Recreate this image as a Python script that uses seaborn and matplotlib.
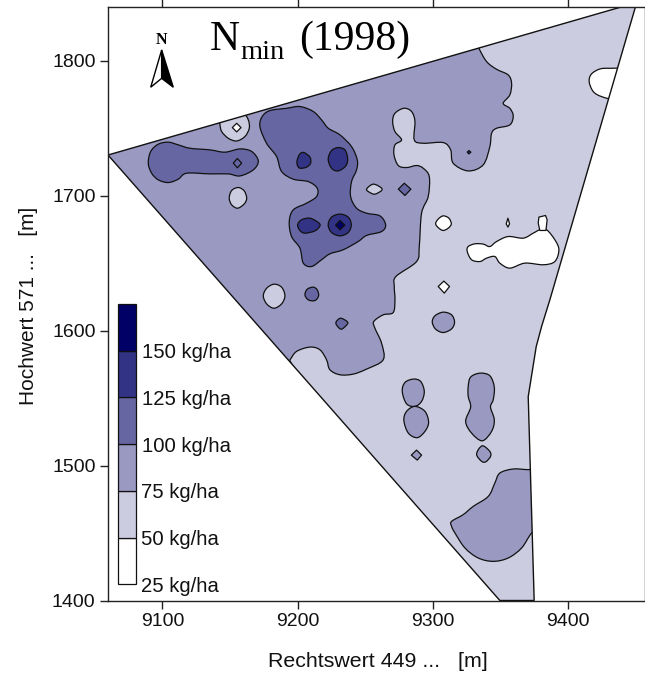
import numpy as np
import matplotlib
matplotlib.use('Agg')
import matplotlib.pyplot as plt
from matplotlib.patches import PathPatch, Polygon, Rectangle
from matplotlib.path import Path
import seaborn as sns

# contour levels of the legend, kg/ha
levels = [25, 50, 75, 100, 125, 150]
level_labels = ['25 kg/ha', '50 kg/ha', '75 kg/ha', '100 kg/ha', '125 kg/ha', '150 kg/ha']
x_ticks = [9100, 9200, 9300, 9400]
y_ticks = [1400, 1500, 1600, 1700, 1800]

# field outline
field = [(9059.7, 1730.0), (9440.6, 1840.0), (9450.0, 1840.0), (9386.6, 1622.7), (9380.5, 1603.0),
         (9376.5, 1588.0), (9370.6, 1551.0), (9375.0, 1400.0), (9349.6, 1400.0)]

# 75 kg/ha, runs past the field edge and gets clipped
main_75 = [(9190.6, 1574.6), (9194.3, 1578.3), (9199.2, 1584.5), (9209.1, 1587.7), (9216.5, 1585.7),
           (9221.4, 1578.3), (9223.9, 1570.9), (9231.3, 1567.2), (9241.1, 1567.7), (9251.0, 1571.4),
           (9263.3, 1578.3), (9262.1, 1590.6), (9257.2, 1601.7), (9256.4, 1606.7), (9263.3, 1611.6),
           (9270.7, 1613.3), (9272.0, 1622.7), (9271.5, 1632.6), (9272.7, 1640.0), (9288.0, 1651.1),
           (9290.0, 1662.2), (9291.7, 1686.9), (9296.6, 1699.2), (9297.4, 1714.0), (9292.9, 1720.2),
           (9288.0, 1722.2), (9280.6, 1720.7), (9274.5, 1722.2), (9271.3, 1730.1), (9272.0, 1737.5),
           (9276.9, 1741.2), (9272.0, 1747.4), (9270.3, 1754.8), (9272.0, 1760.9), (9278.6, 1764.6),
           (9284.3, 1762.2), (9286.8, 1754.8), (9286.3, 1741.2), (9292.9, 1738.7), (9307.7, 1739.2),
           (9313.2, 1733.8), (9315.1, 1723.9), (9326.2, 1718.2), (9337.3, 1722.7), (9342.2, 1736.2),
           (9343.5, 1746.1), (9347.2, 1749.8), (9357.0, 1752.3), (9359.5, 1759.0), (9357.0, 1764.6),
           (9352.1, 1768.3), (9357.0, 1774.5), (9358.3, 1783.1), (9355.8, 1789.3), (9347.2, 1793.5),
           (9339.8, 1799.2), (9334.1, 1809.0), (9331.2, 1815.2), (9050.0, 1745.0), (9040.0, 1725.0)]
south_75 = [(9313.9, 1458.6), (9322.5, 1463.6), (9329.9, 1469.7), (9341.0, 1477.1), (9345.9, 1487.0),
            (9349.6, 1494.4), (9359.5, 1497.4), (9370.6, 1496.9), (9381.7, 1496.9), (9381.7, 1457.4),
            (9373.1, 1450.0), (9365.7, 1438.9), (9355.8, 1431.5), (9344.7, 1429.0), (9333.6, 1431.5),
            (9323.8, 1438.9), (9316.4, 1450.0), (9313.9, 1454.9)]
spot_75_a = [(9299.6, 1606.2), (9301.6, 1610.9), (9307.7, 1613.6), (9313.9, 1611.6), (9316.1, 1606.2),
             (9313.9, 1601.2), (9307.7, 1598.5), (9302.1, 1601.0)]
spot_75_b = [(9277.4, 1554.9), (9279.4, 1561.5), (9285.6, 1564.0), (9291.0, 1562.3), (9293.7, 1554.9),
             (9291.7, 1547.5), (9286.8, 1543.8), (9280.6, 1545.7)]
spot_75_c = [(9278.6, 1533.4), (9280.6, 1540.1), (9286.8, 1543.8), (9294.2, 1540.1), (9296.9, 1531.9),
             (9294.2, 1525.3), (9288.5, 1520.6), (9281.9, 1524.0)]
spot_75_d = [(9326.2, 1558.6), (9328.0, 1565.5), (9334.9, 1568.4), (9342.2, 1566.5), (9345.5, 1558.1),
             (9344.7, 1548.7), (9342.7, 1543.3), (9345.5, 1533.9), (9343.5, 1525.3), (9336.6, 1518.3),
             (9328.7, 1524.0), (9324.3, 1532.7), (9328.0, 1543.3), (9326.2, 1551.2)]
spot_75_e = [(9332.4, 1508.5), (9336.6, 1514.6), (9342.2, 1510.4), (9342.7, 1506.7), (9339.3, 1502.8),
             (9336.1, 1503.1)]
diamond_75 = [(9284.1, 1507.7), (9288.0, 1511.4), (9291.7, 1507.7), (9288.5, 1504.0)]

# 50 kg/ha islands inside the 75 area
north_50 = [(9142.5, 1753.0), (9143.8, 1747.4), (9148.7, 1742.4), (9154.9, 1740.4), (9161.0, 1743.7),
            (9164.2, 1749.8), (9163.5, 1756.0), (9159.8, 1760.9), (9151.2, 1762.2), (9142.5, 1759.7)]
spot_50_a = [(9149.4, 1698.0), (9151.2, 1703.7), (9156.1, 1705.9), (9160.5, 1703.4), (9162.3, 1698.0),
             (9160.5, 1693.8), (9155.6, 1690.6), (9151.2, 1693.1)]
spot_50_b = [(9174.6, 1625.7), (9177.1, 1631.3), (9182.5, 1634.3), (9188.1, 1632.1), (9190.6, 1625.7),
             (9188.1, 1619.7), (9182.5, 1616.5), (9177.1, 1619.7)]
lens_50 = [(9251.0, 1704.7), (9255.9, 1708.4), (9261.6, 1705.9), (9262.1, 1703.7), (9257.2, 1701.0),
           (9253.5, 1702.2)]

# 25 kg/ha, white
ne_25 = [(9415.7, 1784.4), (9417.4, 1790.0), (9423.6, 1793.7), (9431.0, 1794.2), (9439.6, 1793.0),
         (9440.8, 1780.7), (9433.5, 1772.0), (9424.8, 1773.3), (9418.7, 1777.0)]
blob_25 = [(9325.5, 1658.5), (9326.2, 1662.2), (9331.2, 1664.2), (9337.3, 1664.0), (9342.2, 1662.2),
           (9347.2, 1665.9), (9355.8, 1669.6), (9366.9, 1668.4), (9374.3, 1672.1), (9379.2, 1674.6),
           (9384.2, 1674.6), (9390.3, 1667.2), (9393.3, 1659.8), (9390.3, 1651.1), (9381.7, 1648.7),
           (9368.1, 1649.9), (9357.0, 1646.2), (9349.6, 1649.9), (9345.9, 1654.8), (9339.8, 1653.6),
           (9334.9, 1651.1), (9328.7, 1652.4)]
spot_25 = [(9302.1, 1679.0), (9304.0, 1682.5), (9307.7, 1684.9), (9311.9, 1683.2), (9313.7, 1679.0),
           (9311.4, 1675.8), (9307.7, 1674.1), (9304.5, 1675.8)]
sliver_25 = [(9378.5, 1684.0), (9383.4, 1685.2), (9384.6, 1682.0), (9383.7, 1674.1), (9379.2, 1674.1),
             (9378.0, 1679.5)]
tiny_25 = [(9354.3, 1679.0), (9355.6, 1683.2), (9356.8, 1679.0), (9355.6, 1676.6)]
diamond_25_a = [(9151.7, 1750.3), (9154.9, 1753.5), (9158.1, 1750.3), (9154.9, 1747.1)]
diamond_25_b = [(9304.0, 1632.6), (9308.2, 1636.6), (9312.4, 1632.6), (9308.5, 1627.7)]

# 100 kg/ha
west_100 = [(9089.5, 1723.9), (9091.3, 1732.6), (9096.9, 1738.0), (9104.3, 1739.5), (9111.7, 1737.5),
            (9120.4, 1735.0), (9135.1, 1733.8), (9146.2, 1732.1), (9157.3, 1734.5), (9166.0, 1732.6),
            (9170.9, 1725.6), (9167.2, 1719.0), (9157.3, 1714.5), (9148.7, 1716.0), (9135.1, 1716.0),
            (9117.9, 1716.5), (9111.7, 1712.1), (9104.3, 1709.6), (9096.9, 1711.6), (9092.0, 1716.5)]
centre_100 = [(9172.1, 1751.0), (9173.8, 1758.5), (9179.5, 1762.9), (9191.8, 1764.6), (9201.7, 1765.9),
              (9211.6, 1762.2), (9217.7, 1756.0), (9222.7, 1749.8), (9231.3, 1744.9), (9239.9, 1736.2),
              (9244.1, 1726.4), (9243.6, 1719.0), (9239.9, 1710.3), (9239.2, 1699.2), (9243.6, 1690.6),
              (9251.0, 1686.9), (9260.9, 1684.9), (9265.1, 1678.3), (9262.1, 1673.3), (9251.0, 1670.4),
              (9244.8, 1665.9), (9233.7, 1659.8), (9223.9, 1656.8), (9217.7, 1652.4), (9210.3, 1647.4),
              (9204.2, 1649.9), (9201.7, 1661.0), (9195.5, 1669.6), (9193.8, 1680.7), (9196.8, 1689.4),
              (9206.6, 1694.3), (9214.0, 1699.2), (9214.5, 1705.4), (9207.9, 1710.3), (9196.8, 1712.1),
              (9188.1, 1717.8), (9184.4, 1728.9), (9177.0, 1738.7)]
spot_100 = [(9205.4, 1626.4), (9207.1, 1630.6), (9211.6, 1632.1), (9214.5, 1630.1), (9215.5, 1625.7),
            (9212.8, 1622.2), (9207.9, 1622.7)]
patch_100 = [(9228.3, 1605.9), (9231.8, 1609.1), (9237.0, 1606.2), (9235.7, 1603.5), (9232.5, 1601.0),
             (9230.0, 1602.5)]
diamond_100_a = [(9274.5, 1704.7), (9278.9, 1709.1), (9283.8, 1704.7), (9279.4, 1700.0)]
diamond_100_b = [(9152.4, 1724.0), (9155.4, 1727.4), (9158.6, 1724.0), (9155.4, 1720.5)]

# 125 kg/ha
core_125_a = [(9199.7, 1726.4), (9201.7, 1730.8), (9204.7, 1731.8), (9209.1, 1728.4), (9209.6, 1723.9),
              (9206.6, 1721.0), (9201.7, 1720.2), (9199.7, 1722.7)]
core_125_b = [(9222.6, 1726.9), (9225.1, 1733.3), (9230.0, 1735.5), (9235.0, 1733.8), (9237.0, 1727.6),
              (9235.7, 1722.0), (9230.0, 1718.2), (9225.1, 1720.2)]
core_125_c = [(9200.0, 1678.3), (9202.9, 1682.0), (9209.1, 1683.2), (9215.3, 1680.0), (9216.5, 1677.5),
              (9212.8, 1673.8), (9205.4, 1672.1), (9201.7, 1674.1)]
core_125_d = [(9222.6, 1678.3), (9225.1, 1684.0), (9231.3, 1686.2), (9237.4, 1684.0), (9239.7, 1678.3),
              (9237.4, 1672.6), (9231.3, 1670.1), (9225.1, 1672.6)]
dot_125 = [(9325.5, 1732.1), (9326.7, 1733.3), (9328.2, 1732.1), (9326.7, 1730.8)]

# 150 kg/ha
peak_150 = [(9228.1, 1678.0), (9231.3, 1681.5), (9235.0, 1678.0), (9231.3, 1674.6)]

sns.set_style('ticks')
plt.rcParams['font.family'] = ['Liberation Sans', 'DejaVu Sans']

colors = sns.blend_palette(['#ffffff', '#000066'], 6)
LW = 0.9
EDGE = '#111111'


def smooth_path(pts):
    # closed bezier through the contour points
    pts = np.array(pts)
    prev_p = np.roll(pts, 1, axis=0)
    next_p = np.roll(pts, -1, axis=0)
    next2_p = np.roll(pts, -2, axis=0)
    verts = [pts[0]]
    codes = [Path.MOVETO]
    for p0, p1, p2, p3 in zip(prev_p, pts, next_p, next2_p):
        verts += [p1 + (p2 - p0) / 6, p2 - (p3 - p1) / 6, p2]
        codes += [Path.CURVE4, Path.CURVE4, Path.CURVE4]
    return Path(verts, codes)


def draw(ax, clip, pts, band, smooth=True):
    path = smooth_path(pts) if smooth else Path(list(pts) + [pts[0]], closed=True)
    patch = PathPatch(path, facecolor=colors[band], edgecolor=EDGE, lw=LW, joinstyle='round')
    ax.add_patch(patch)
    patch.set_clip_path(clip)


fig = plt.figure(figsize=(6.45, 6.78), dpi=100)
ax = fig.add_axes([108 / 645, (678 - 600.5) / 678, 537 / 645, 594 / 678])
ax.set_xlim(9059.7, 9457.0)
ax.set_ylim(1400, 1840)

field_patch = Polygon(field, closed=True, facecolor=colors[1], edgecolor='none')
ax.add_patch(field_patch)

for pts in [main_75, south_75, spot_75_a, spot_75_b, spot_75_c, spot_75_d, spot_75_e]:
    draw(ax, field_patch, pts, 2)
draw(ax, field_patch, diamond_75, 2, smooth=False)
for pts in [north_50, spot_50_a, spot_50_b, lens_50]:
    draw(ax, field_patch, pts, 1)
for pts in [ne_25, blob_25, spot_25]:
    draw(ax, field_patch, pts, 0)
for pts in [sliver_25, tiny_25, diamond_25_a, diamond_25_b]:
    draw(ax, field_patch, pts, 0, smooth=False)
for pts in [west_100, centre_100, spot_100, patch_100]:
    draw(ax, field_patch, pts, 3)
for pts in [diamond_100_a, diamond_100_b]:
    draw(ax, field_patch, pts, 3, smooth=False)
for pts in [core_125_a, core_125_b, core_125_c, core_125_d]:
    draw(ax, field_patch, pts, 4)
draw(ax, field_patch, dot_125, 4, smooth=False)
draw(ax, field_patch, peak_150, 5, smooth=False)
ax.add_patch(Polygon(field, closed=True, fill=False, edgecolor=EDGE, lw=1.0))

# legend column, colour boxes with a label at each lower edge
box_left = (117.7 - 108) / 537
box_w = 18 / 537
box_h = 46.7 / 594
box_bottom = (600.5 - 584.3) / 594
for i, label in enumerate(level_labels):
    y0 = box_bottom + i * box_h
    ax.add_patch(Rectangle((box_left, y0), box_w, box_h, transform=ax.transAxes, facecolor=colors[i],
                           edgecolor=EDGE, lw=0.9, zorder=5))
    ax.text(box_left + box_w + (0.012 if i > 2 else 0.010), y0 - 0.0034, label, transform=ax.transAxes,
            fontsize=14.6, va='center', ha='left', color='#111111', zorder=5)

# title and north arrow
ax.text(9135, 1807.8, 'N', family='Liberation Serif', fontsize=30, va='baseline', ha='left', color='black')
ax.text(9158, 1801, 'min', family='Liberation Serif', fontsize=20.5, va='baseline', ha='left', color='black')
ax.text(9201, 1807.8, '(1998)', family='Liberation Serif', fontsize=30, va='baseline', ha='left',
        color='black')
ax.text(9099.4, 1809.5, 'N', family='Liberation Serif', weight='bold', fontsize=11.5, ha='center',
        va='bottom', color='black')
ax.add_patch(Polygon([(9099.4, 1807.8), (9091.3, 1780.2), (9099.4, 1786.8)], closed=True,
                     facecolor='white', edgecolor='black', lw=1.0))
ax.add_patch(Polygon([(9099.4, 1807.8), (9108.0, 1780.2), (9099.4, 1786.8)], closed=True,
                     facecolor='black', edgecolor='black', lw=1.0))

ax.set_xticks(x_ticks)
ax.set_yticks(y_ticks)
ax.tick_params(axis='both', which='major', direction='out', length=6, width=1.0, color='#222222',
               labelsize=14, top=True, right=True, pad=3, labelcolor='#111111')
for s in ax.spines.values():
    s.set_linewidth(1.0)
    s.set_color('#222222')
ax.set_xlabel('Rechtswert 449 ...   [m]', fontsize=15.4, color='#111111')
ax.set_ylabel('Hochwert 571 ...   [m]', fontsize=15, color='#111111')
ax.xaxis.set_label_coords((378 - 108) / 537, -(652 - 600.5) / 594)
ax.yaxis.set_label_coords(-(108 - 38) / 537, (600.5 - 306) / 594)

fig.savefig('out.png', dpi=100)
